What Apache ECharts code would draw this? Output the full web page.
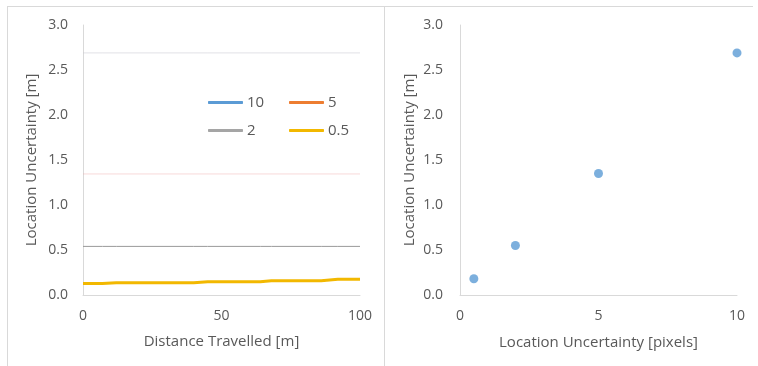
<!DOCTYPE html>
<html>
<head>
<meta charset="utf-8">
<script src="https://cdn.jsdelivr.net/npm/echarts@6/dist/echarts.min.js"></script>
<style>html,body{margin:0;padding:0;background:#fff}#c{width:758px;height:366px}</style>
</head>
<body>
<div id="c"></div>
<script>
// ---- data ----
var distance = [0, 7, 12, 40, 45, 64, 68, 86, 92, 100];
var series10 = [2.69, 2.69, 2.69, 2.69, 2.69, 2.69, 2.69, 2.69, 2.69, 2.69];
var series5 = [1.345, 1.345, 1.345, 1.345, 1.345, 1.345, 1.345, 1.345, 1.345, 1.345];
var series2 = [0.54, 0.54, 0.54, 0.54, 0.54, 0.54, 0.54, 0.54, 0.54, 0.54];
var series05 = [0.128, 0.128, 0.137, 0.137, 0.148, 0.148, 0.158, 0.158, 0.176, 0.176];
var seriesNames = ['10', '5', '2', '0.5'];
var pixelUncertainty = [0.5, 2, 5, 10];
var meterUncertainty = [0.18, 0.55, 1.35, 2.69];

var FONT = 'Open Sans';
var TXT = '#595959';
var AXC = '#d9d9d9';
var colors = ['#5b9bd5', '#ed7d31', '#a5a5a5', '#f2b800'];

function zip(xs, ys) { return xs.map(function (x, i) { return [x, ys[i]]; }); }

var chart = echarts.init(document.getElementById('c'), null, {renderer: 'canvas'});

function yAxis(idx) {
  return {
    type: 'value', gridIndex: idx, min: 0, max: 3, interval: 0.5,
    name: 'Location Uncertainty [m]', nameLocation: 'middle', nameGap: idx === 0 ? 44 : 43,
    nameTextStyle: {color: TXT, fontFamily: FONT, fontSize: 15},
    axisLine: {show: true, lineStyle: {color: AXC, width: 1}},
    axisTick: {show: false}, splitLine: {show: false},
    axisLabel: {color: TXT, fontFamily: FONT, fontSize: 14, margin: idx === 0 ? 15 : 17,
      formatter: function (v) { return v.toFixed(1); }}
  };
}

function legend(name, left, top) {
  return {
    data: [name], left: left, top: top, itemWidth: 35, itemHeight: 3, icon: 'roundRect',
    itemGap: 0, padding: 0, selectedMode: false,
    textStyle: {color: TXT, fontFamily: FONT, fontSize: 15, padding: [0, 0, 0, -1]}
  };
}

var option = {
  animation: false,
  backgroundColor: '#fff',
  grid: [
    {left: 83, top: 25, width: 277, height: 270},
    {left: 460, top: 25, width: 277, height: 270}
  ],
  legend: [
    legend('10', 208, 95),
    legend('5', 289, 95),
    legend('2', 208, 123),
    legend('0.5', 289, 123)
  ],
  xAxis: [
    {type: 'value', gridIndex: 0, min: 0, max: 100, interval: 50,
      name: 'Distance Travelled [m]', nameLocation: 'middle', nameGap: 39,
      nameTextStyle: {color: TXT, fontFamily: FONT, fontSize: 15},
      axisLine: {show: true, lineStyle: {color: AXC}}, axisTick: {show: false}, splitLine: {show: false},
      axisLabel: {color: TXT, fontFamily: FONT, fontSize: 14, margin: 14}},
    {type: 'value', gridIndex: 1, min: 0, max: 10, interval: 5,
      name: 'Location Uncertainty [pixels]', nameLocation: 'middle', nameGap: 40,
      nameTextStyle: {color: TXT, fontFamily: FONT, fontSize: 15},
      axisLine: {show: true, lineStyle: {color: AXC}}, axisTick: {show: false}, splitLine: {show: false},
      axisLabel: {color: TXT, fontFamily: FONT, fontSize: 14, margin: 14}}
  ],
  yAxis: [yAxis(0), yAxis(1)],
  series: [
    {name: seriesNames[0], type: 'line', xAxisIndex: 0, yAxisIndex: 0, data: zip(distance, series10),
      showSymbol: false, color: colors[0], lineStyle: {width: 1, color: 'rgba(200,200,210,0.55)'}},
    {name: seriesNames[1], type: 'line', xAxisIndex: 0, yAxisIndex: 0, data: zip(distance, series5),
      showSymbol: false, color: colors[1], lineStyle: {width: 1, color: 'rgba(240,170,170,0.45)'}},
    {name: seriesNames[2], type: 'line', xAxisIndex: 0, yAxisIndex: 0, data: zip(distance, series2),
      showSymbol: false, color: colors[2], lineStyle: {width: 1, color: '#9a9a9a'}},
    {name: seriesNames[3], type: 'line', xAxisIndex: 0, yAxisIndex: 0, data: zip(distance, series05),
      showSymbol: false, color: colors[3], lineStyle: {width: 3, color: colors[3]}},
    {name: 'scatter', type: 'scatter', xAxisIndex: 1, yAxisIndex: 1,
      data: zip(pixelUncertainty, meterUncertainty), symbolSize: 9, itemStyle: {color: '#5b9bd5'}}
  ],
  graphic: [
    {type: 'line', shape: {x1: 7, y1: 6.5, x2: 753, y2: 6.5}, style: {stroke: AXC, lineWidth: 1}, silent: true},
    {type: 'line', shape: {x1: 7.5, y1: 6, x2: 7.5, y2: 366}, style: {stroke: AXC, lineWidth: 1}, silent: true},
    {type: 'line', shape: {x1: 384.5, y1: 6, x2: 384.5, y2: 366}, style: {stroke: AXC, lineWidth: 1}, silent: true}
  ]
};
chart.setOption(option);
</script>
</body>
</html>
